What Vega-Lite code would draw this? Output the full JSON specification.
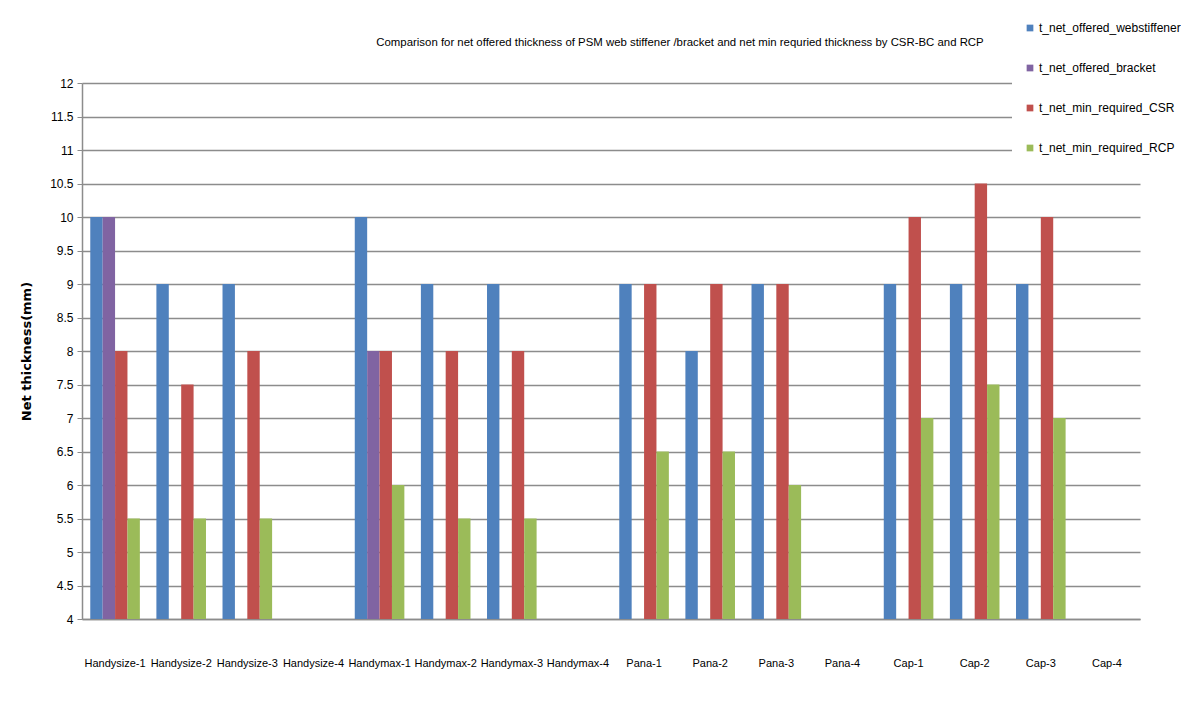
{
  "$schema": "https://vega.github.io/schema/vega-lite/v6.json",
  "width": 1058,
  "height": 536,
  "autosize": "none",
  "padding": {"left": 82, "top": 83, "right": 41, "bottom": 85},
  "background": "white",
  "title": {
    "text": "Comparison for net offered thickness of PSM web stiffener /bracket and net min requried thickness  by CSR-BC and RCP",
    "anchor": "middle",
    "frame": "group",
    "dx": 69,
    "offset": -38,
    "fontSize": 11.4,
    "fontWeight": "normal",
    "font": "Liberation Sans",
    "color": "#000000"
  },
  "config": {
    "view": {"stroke": null},
    "font": "Liberation Sans",
    "axis": {"labelColor": "#000000", "titleColor": "#000000", "labelFont": "Liberation Sans"},
    "legend": {"labelFont": "Liberation Sans", "labelColor": "#000000"}
  },
  "data": {
    "values": [
      {"cat": "Handysize-1", "series": "t_net_offered_webstiffener", "value": 10},
      {"cat": "Handysize-1", "series": "t_net_offered_bracket", "value": 10},
      {"cat": "Handysize-1", "series": "t_net_min_required_CSR", "value": 8},
      {"cat": "Handysize-1", "series": "t_net_min_required_RCP", "value": 5.5},
      {"cat": "Handysize-2", "series": "t_net_offered_webstiffener", "value": 9},
      {"cat": "Handysize-2", "series": "t_net_min_required_CSR", "value": 7.5},
      {"cat": "Handysize-2", "series": "t_net_min_required_RCP", "value": 5.5},
      {"cat": "Handysize-3", "series": "t_net_offered_webstiffener", "value": 9},
      {"cat": "Handysize-3", "series": "t_net_min_required_CSR", "value": 8},
      {"cat": "Handysize-3", "series": "t_net_min_required_RCP", "value": 5.5},
      {"cat": "Handymax-1", "series": "t_net_offered_webstiffener", "value": 10},
      {"cat": "Handymax-1", "series": "t_net_offered_bracket", "value": 8},
      {"cat": "Handymax-1", "series": "t_net_min_required_CSR", "value": 8},
      {"cat": "Handymax-1", "series": "t_net_min_required_RCP", "value": 6},
      {"cat": "Handymax-2", "series": "t_net_offered_webstiffener", "value": 9},
      {"cat": "Handymax-2", "series": "t_net_min_required_CSR", "value": 8},
      {"cat": "Handymax-2", "series": "t_net_min_required_RCP", "value": 5.5},
      {"cat": "Handymax-3", "series": "t_net_offered_webstiffener", "value": 9},
      {"cat": "Handymax-3", "series": "t_net_min_required_CSR", "value": 8},
      {"cat": "Handymax-3", "series": "t_net_min_required_RCP", "value": 5.5},
      {"cat": "Pana-1", "series": "t_net_offered_webstiffener", "value": 9},
      {"cat": "Pana-1", "series": "t_net_min_required_CSR", "value": 9},
      {"cat": "Pana-1", "series": "t_net_min_required_RCP", "value": 6.5},
      {"cat": "Pana-2", "series": "t_net_offered_webstiffener", "value": 8},
      {"cat": "Pana-2", "series": "t_net_min_required_CSR", "value": 9},
      {"cat": "Pana-2", "series": "t_net_min_required_RCP", "value": 6.5},
      {"cat": "Pana-3", "series": "t_net_offered_webstiffener", "value": 9},
      {"cat": "Pana-3", "series": "t_net_min_required_CSR", "value": 9},
      {"cat": "Pana-3", "series": "t_net_min_required_RCP", "value": 6},
      {"cat": "Cap-1", "series": "t_net_offered_webstiffener", "value": 9},
      {"cat": "Cap-1", "series": "t_net_min_required_CSR", "value": 10},
      {"cat": "Cap-1", "series": "t_net_min_required_RCP", "value": 7},
      {"cat": "Cap-2", "series": "t_net_offered_webstiffener", "value": 9},
      {"cat": "Cap-2", "series": "t_net_min_required_CSR", "value": 10.5},
      {"cat": "Cap-2", "series": "t_net_min_required_RCP", "value": 7.5},
      {"cat": "Cap-3", "series": "t_net_offered_webstiffener", "value": 9},
      {"cat": "Cap-3", "series": "t_net_min_required_CSR", "value": 10},
      {"cat": "Cap-3", "series": "t_net_min_required_RCP", "value": 7}
    ]
  },
  "mark": {"type": "bar"},
  "encoding": {
    "x": {
      "field": "cat",
      "type": "nominal",
      "sort": null,
      "scale": {
        "domain": ["Handysize-1", "Handysize-2", "Handysize-3", "Handysize-4", "Handymax-1", "Handymax-2", "Handymax-3", "Handymax-4", "Pana-1", "Pana-2", "Pana-3", "Pana-4", "Cap-1", "Cap-2", "Cap-3", "Cap-4"],
        "paddingInner": 0.25,
        "paddingOuter": 0.125
      },
      "axis": {
        "title": null,
        "labelAngle": 0,
        "labelFontSize": 11,
        "labelPadding": 38,
        "ticks": false,
        "domainColor": "#8c8c8c",
        "domainWidth": 1.5,
        "grid": false
      }
    },
    "xOffset": {
      "field": "series",
      "type": "nominal",
      "scale": {
        "domain": ["t_net_offered_webstiffener", "t_net_offered_bracket", "t_net_min_required_CSR", "t_net_min_required_RCP"],
        "paddingInner": 0,
        "paddingOuter": 0
      }
    },
    "y": {
      "field": "value",
      "type": "quantitative",
      "scale": {"domain": [4, 12], "zero": false, "nice": false},
      "axis": {
        "values": [4, 4.5, 5, 5.5, 6, 6.5, 7, 7.5, 8, 8.5, 9, 9.5, 10, 10.5, 11, 11.5, 12],
        "format": "~g",
        "title": "Net thickness(mm)",
        "titleFontSize": 13,
        "titleFontWeight": "bold",
        "titleFont": "DejaVu Sans",
        "titleX": -49,
        "titleY": 268,
        "titleAngle": -90,
        "labelFontSize": 12,
        "labelPadding": 4,
        "tickSize": 5,
        "tickColor": "#8c8c8c",
        "domainColor": "#8c8c8c",
        "domainWidth": 1.5,
        "gridColor": "#8c8c8c",
        "gridWidth": 1.5
      }
    },
    "y2": {"datum": 4},
    "color": {
      "field": "series",
      "type": "nominal",
      "scale": {
        "domain": ["t_net_offered_webstiffener", "t_net_offered_bracket", "t_net_min_required_CSR", "t_net_min_required_RCP"],
        "range": ["#4F81BD", "#8064A2", "#C0504D", "#9BBB59"]
      },
      "legend": {
        "title": null,
        "orient": "none",
        "legendX": 930,
        "legendY": -73,
        "padding": 12,
        "fillColor": "white",
        "symbolType": "square",
        "symbolSize": 45,
        "symbolStrokeWidth": 0,
        "symbolOpacity": 1,
        "labelFontSize": 12,
        "labelOffset": 3,
        "rowPadding": 28,
        "labelLimit": 200
      }
    }
  }
}
